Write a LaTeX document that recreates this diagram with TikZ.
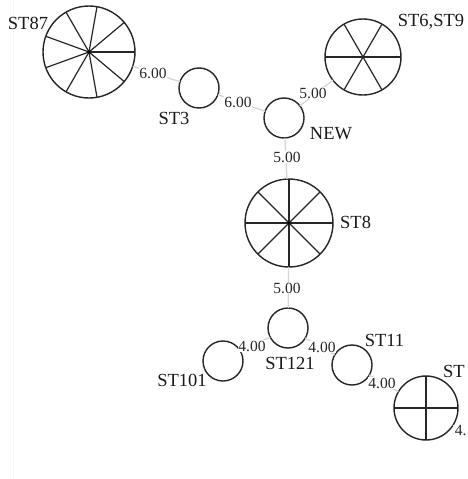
\documentclass[tikz,border=0pt]{standalone}
\usepackage{fontspec}
\setmainfont{Liberation Serif}
\begin{document}
\begin{tikzpicture}[x=1pt,y=-1pt,
  hap/.style={circle,draw=black!85,line width=1.4pt,fill=white,inner sep=0pt,outer sep=0pt,minimum size=#1},
  spoke/.style={draw=black!85,line width=1.2pt},
  link/.style={draw=black!16,line width=1.3pt},
  elab/.style={font=\fontsize{15.5}{17}\selectfont,inner sep=0.6pt,fill=white,text=black!85},
  nlab/.style={font=\fontsize{18.5}{20}\selectfont,inner sep=0pt,text=black!90}]
\useasboundingbox (0,0) rectangle (467,479);
\clip (0,0) rectangle (467,479);
\fill[white] (0,0) rectangle (467,479);
% faint page rule on the left
\draw[black!4,line width=1pt] (13,0) -- (13,479);

% haplotype circles
\node[hap=92] (st87) at (89,52) {};
\node[hap=76] (st69) at (363,57) {};
\node[hap=40] (st3)  at (199,88) {};
\node[hap=40] (new)  at (284,118) {};
\node[hap=88] (st8)  at (289,223) {};
\node[hap=40] (st121) at (288,328) {};
\node[hap=40] (st101) at (223,361) {};
\node[hap=40] (st11) at (352,365) {};
\node[hap=64] (stx)  at (426,408) {};
\coordinate (off) at (500,456);

% sectors
\foreach \a in {0,40,...,320} \draw[spoke] (st87.center) -- (st87.\a);
\foreach \a in {0,60,...,300} \draw[spoke] (st69.center) -- (st69.\a);
\foreach \a in {0,45,...,315} \draw[spoke] (st8.center) -- (st8.\a);
\foreach \a in {0,90,180,270} \draw[spoke] (stx.center) -- (stx.\a);
\fill[black] (st87.center) circle (1.8);
\fill[black] (st8.center) circle (1.6);

% links
\draw[link] (st87) -- (st3);
\draw[link] (st3) -- (new);
\draw[link] (new) -- (st69);
\draw[link] (new) -- (st8);
\draw[link] (st8) -- (st121);
\draw[link] (st121) -- (st101);
\draw[link] (st121) -- (st11);
\draw[link] (st11) -- (stx);
\draw[link] (stx) -- (off);

% link lengths
\node[elab] (l1) at (153,73) {6.00};
\node[elab] (l2) at (238,102) {6.00};
\node[elab] (l3) at (313,93) {5.00};
\node[elab] (l4) at (287,157) {5.00};
\node[elab] (l5) at (287,288) {5.00};
\node[elab] (l6) at (252,346) {4.00};
\node[elab] (l7) at (322,347) {4.00};
\node[elab] (l8) at (382,383) {4.00};
\node[elab,anchor=west] (l9) at (454,431) {4.};

% haplotype names
\node[nlab] (n87) at (28,23) {ST87};
\node[nlab] (n69) at (431,22) {ST6,ST9};
\node[nlab] (n3) at (174,118) {ST3};
\node[nlab] (nnew) at (331,134) {NEW};
\node[nlab,anchor=west] (n8) at (340,222.5) {ST8};
\node[nlab] (n121) at (290,363) {ST121};
\node[nlab] (n101) at (182,380) {ST101};
\node[nlab] (n11) at (384.5,340) {ST11};
\node[nlab,anchor=west] (nx) at (443,371) {ST};
\end{tikzpicture}
\end{document}
